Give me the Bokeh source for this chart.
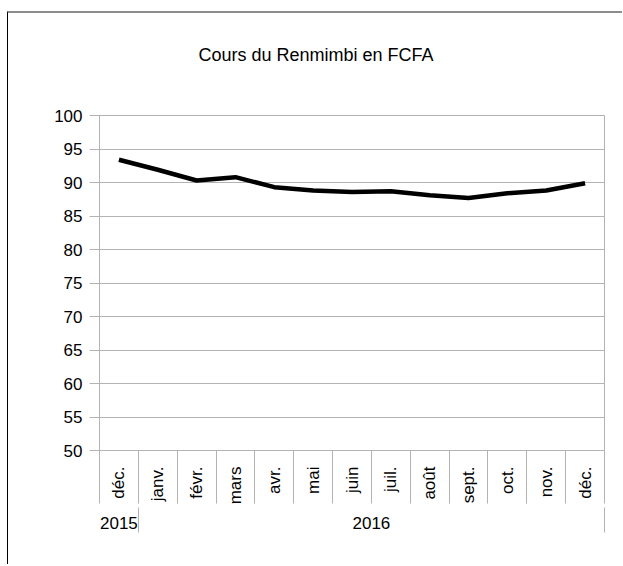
import math
from bokeh.plotting import figure
from bokeh.models import FixedTicker, LinearAxis, Range1d, Title
from bokeh.embed import file_html
from bokeh.resources import INLINE

# ---- data ----
months = ["déc.", "janv.", "févr.", "mars", "avr.", "mai", "juin",
          "juil.", "août", "sept.", "oct.", "nov.", "déc."]
years = ["2015", "2016"]
year_counts = [1, 12]
rates = [93.4, 91.9, 90.3, 90.8, 89.3, 88.8, 88.6,
         88.7, 88.1, 87.7, 88.4, 88.8, 89.9]
y_ticks = [50, 55, 60, 65, 70, 75, 80, 85, 90, 95, 100]
title_text = "Cours du Renmimbi en FCFA"

FONT = "Liberation Sans"
GRID = "#b3b3b3"

n = len(months)
xs = [i + 0.5 for i in range(n)]
bounds = list(range(n + 1))

p = figure(width=615, height=553, output_backend="svg", toolbar_location=None,
           x_range=Range1d(0, n), y_range=Range1d(y_ticks[0], y_ticks[-1]),
           min_border_left=91, min_border_right=19,
           min_border_top=102, min_border_bottom=116)
p.styles = {"margin-left": "7px", "margin-top": "11px",
            "border-left": "1px solid #000000",
            "border-top": "2px solid #8c8c8c"}
p.background_fill_color = "white"
p.border_fill_color = "white"
p.outline_line_color = GRID
p.outline_line_width = 1

# spacer between the frame and the title
spacer = Title(text=" ", standoff=48, text_font_size="1px")
p.add_layout(spacer, "above")
t = Title(text=title_text, align="left", offset=99, standoff=0,
          text_font=FONT, text_font_size="18px", text_font_style="normal",
          text_color="#000000")
p.add_layout(t, "above")

p.line(xs, rates, line_color="black", line_width=4.5)

# y axis
ya = p.yaxis[0]
ya.ticker = FixedTicker(ticks=y_ticks)
ya.axis_line_color = GRID
ya.major_tick_line_color = GRID
ya.major_tick_out = 10
ya.major_tick_in = 0
ya.minor_tick_line_color = None
ya.major_label_standoff = 7
ya.major_label_text_font = FONT
ya.major_label_text_font_size = "17px"
ya.major_label_text_color = "#000000"

p.ygrid.ticker = FixedTicker(ticks=y_ticks)
p.ygrid.grid_line_color = GRID
p.xgrid.grid_line_color = None

# month axis
xa = p.xaxis[0]
xa.ticker = FixedTicker(ticks=xs, minor_ticks=bounds)
xa.major_label_overrides = {x: m for x, m in zip(xs, months)}
xa.major_label_orientation = math.pi / 2
xa.axis_line_color = GRID
xa.major_tick_line_color = None
xa.major_tick_out = 0
xa.major_tick_in = 0
xa.minor_tick_line_color = GRID
xa.minor_tick_out = 53
xa.minor_tick_in = 0
xa.major_label_standoff = 16 - 53
xa.major_label_text_font = FONT
xa.major_label_text_font_size = "17px"
xa.major_label_text_color = "#000000"

# year axis
starts = [sum(year_counts[:i]) for i in range(len(years))]
ends = [s + c for s, c in zip(starts, year_counts)]
centers = [(s + e) / 2 for s, e in zip(starts, ends)]
yax = LinearAxis(ticker=FixedTicker(ticks=centers, minor_ticks=ends))
yax.major_label_overrides = {c: y for c, y in zip(centers, years)}
yax.axis_line_color = None
yax.major_tick_line_color = None
yax.major_tick_out = 0
yax.major_tick_in = 0
yax.minor_tick_line_color = GRID
yax.minor_tick_out = 25
yax.minor_tick_in = 0
yax.major_label_standoff = 9 - 25
yax.major_label_text_font = FONT
yax.major_label_text_font_size = "17px"
yax.major_label_text_color = "#000000"
p.add_layout(yax, "below")

open("out.html", "w").write(file_html(p, INLINE))
